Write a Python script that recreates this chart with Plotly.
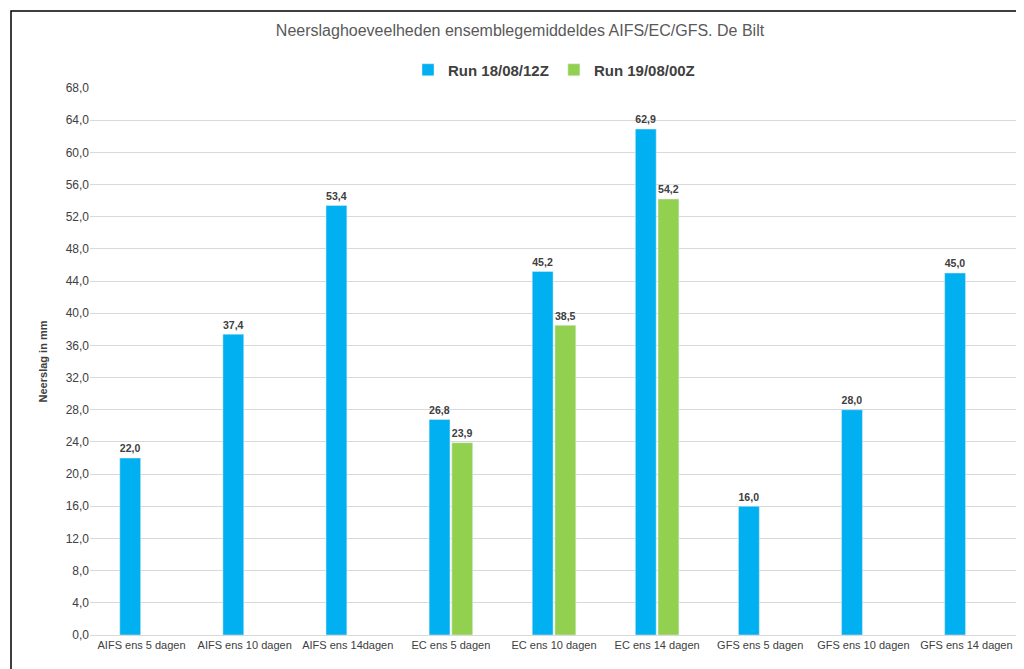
import plotly.graph_objects as go

categories = ["AIFS ens 5 dagen", "AIFS ens 10 dagen", "AIFS ens 14dagen",
              "EC ens 5 dagen", "EC ens 10 dagen", "EC ens 14 dagen",
              "GFS ens 5 dagen", "GFS ens 10 dagen", "GFS ens 14 dagen"]
run_1812 = [22.0, 37.4, 53.4, 26.8, 45.2, 62.9, 16.0, 28.0, 45.0]
run_1900 = [None, None, None, 23.9, 38.5, 54.2, None, None, None]

def labels(vals):
    return [f"<b>{v:.1f}</b>".replace(".", ",") if v is not None else "" for v in vals]

W, H, L, R, T, B = 1024, 669, 82, 14, 80, 42
pw, ph = W - L - R, H - T - B

fig = go.Figure()
fig.add_bar(x=categories, y=run_1812, name="<b>Run 18/08/12Z</b>", marker_color="#00B0F0",
            text=labels(run_1812), textposition="outside", cliponaxis=False)
fig.add_bar(x=categories, y=run_1900, name="<b>Run 19/08/00Z</b>", marker_color="#92D050",
            text=labels(run_1900), textposition="outside", cliponaxis=False)

fig.update_traces(textfont=dict(size=12, color="#404040", family="Liberation Sans"),
                  textangle=0)
fig.update_layout(
    width=W, height=H,
    separators=",.",
    barmode="group", bargap=0.56, bargroupgap=0.08,
    plot_bgcolor="white", paper_bgcolor="white",
    font=dict(family="Liberation Sans", color="#595959"),
    title=dict(text="Neerslaghoeveelheden ensemblegemiddeldes AIFS/EC/GFS. De Bilt",
               x=0.5, y=1 - 22 / H, xanchor="center", yanchor="middle",
               font=dict(size=16, color="#595959")),
    legend=dict(orientation="h", x=0.5, xanchor="center", y=(H - B - 62) / ph,
                yanchor="middle",
                font=dict(size=15, color="#404040", family="Liberation Sans"),
                itemwidth=30),
    margin=dict(l=L, r=R, t=T, b=B, autoexpand=False),
    shapes=[dict(type="rect", xref="paper", yref="paper",
                 x0=(3 - L) / pw, x1=(W - 3 - L) / pw,
                 y0=(H - B - (H - 3)) / ph, y1=(H - B - 3) / ph,
                 line=dict(color="black", width=1.5))],
)
fig.update_yaxes(range=[0, 68], dtick=4, tickformat=".1f", gridcolor="#D9D9D9",
                 tickfont=dict(size=12, color="#404040"), zeroline=False,
                 title=dict(text="<b>Neerslag in mm</b>", font=dict(size=11, color="#404040")))
fig.update_xaxes(tickfont=dict(size=11, color="#404040"), showline=True,
                 linecolor="#D9D9D9")
fig.write_html("out.html")
